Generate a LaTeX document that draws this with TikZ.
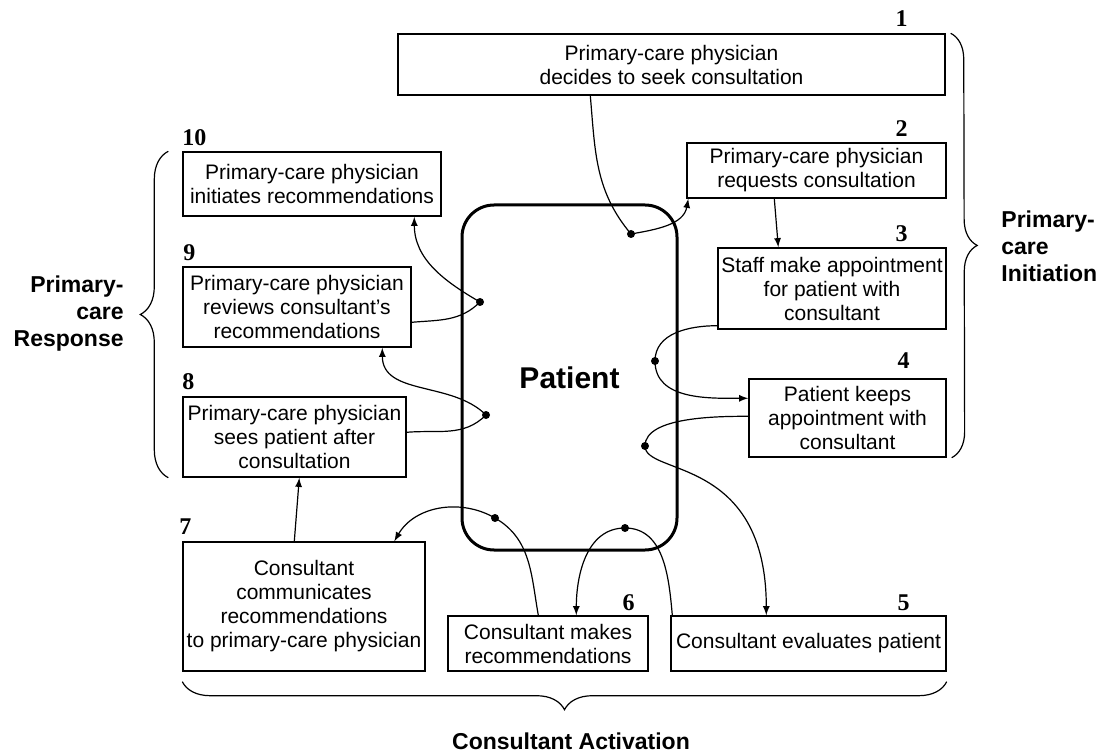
\documentclass[tikz,border=0pt]{standalone}
\usepackage{fontspec}
\setmainfont{Liberation Sans}
\newfontfamily\numfont{Liberation Serif}
\usepackage{tikz}
\usetikzlibrary{calc, decorations.pathreplacing}

\begin{document}
\begin{tikzpicture}[x=0.5pt, y=0.5pt,
    BOX/.style={rectangle, draw=black, line width=0.7pt, inner sep=0pt, font=\fontsize{10.5}{12}\selectfont},
    PAT/.style={rectangle, draw=black, line width=1.5pt, rounded corners=16pt, font=\fontsize{15}{18}\selectfont\bfseries},
    NUM/.style={inner sep=0pt, font=\fontsize{12}{14}\selectfont\numfont\bfseries},
    DOT/.style={circle, fill=black, inner sep=0pt, minimum size=4pt},
    LNK/.style={semithick, ->, >=latex},
    BRC/.style={decorate, decoration={brace, amplitude=13pt}, line width=0.6pt},
    GRP/.style={inner sep=0pt, font=\fontsize{11.5}{13.5}\selectfont\bfseries}
    ]
    \useasboundingbox (0,0) rectangle (1098,-754);
        \node[PAT, minimum width=107.5pt, minimum height=172.5pt] (P) at (569.5,-377.5) {Patient};
        \node[BOX, minimum width=273.5pt, minimum height=30.5pt] (S1) at (671.5,-64.5) {\parbox{200pt}{\centering Primary-care physician\\decides to seek consultation}};
        \node[BOX, minimum width=129.5pt, minimum height=27.5pt] (S2) at (816.5,-170.5) {\parbox{127pt}{\centering Primary-care physician\\requests consultation}};
        \node[BOX, minimum width=114pt, minimum height=40.5pt] (S3) at (832,-288.5) {\parbox{112pt}{\centering Staff make appointment\\for patient with\\consultant}};
        \node[BOX, minimum width=98.5pt, minimum height=39pt] (S4) at (847.5,-418) {\parbox{96pt}{\centering Patient keeps\\appointment with\\consultant}};
        \node[BOX, minimum width=137.5pt, minimum height=27.5pt] (S5) at (808.5,-643.5) {\parbox{135pt}{\centering Consultant evaluates patient}};
        \node[BOX, minimum width=100pt, minimum height=27.5pt] (S6) at (548,-643.5) {\parbox{98pt}{\centering Consultant makes\\recommendations}};
        \node[BOX, minimum width=121pt, minimum height=64.5pt] (S7) at (304,-606.5) {\parbox{119pt}{\centering Consultant\\communicates\\recommendations\\to primary-care physician}};
        \node[BOX, minimum width=111.5pt, minimum height=40pt] (S8) at (294.5,-437) {\parbox{110pt}{\centering Primary-care physician\\sees patient after\\consultation}};
        \node[BOX, minimum width=114pt, minimum height=40pt] (S9) at (297,-307) {\parbox{112pt}{\centering Primary-care physician\\reviews consultant's\\recommendations}};
        \node[BOX, minimum width=129pt, minimum height=32pt] (S10) at (312,-184) {\parbox{127pt}{\centering Primary-care physician\\initiates recommendations}};
        \node[NUM] (N1) at ($(S1.north east)+(-44,15)$) {1};
        \node[NUM] (N2) at ($(S2.north east)+(-45,14)$) {2};
        \node[NUM] (N3) at ($(S3.north east)+(-45,14)$) {3};
        \node[NUM] (N4) at ($(S4.north east)+(-43,18)$) {4};
        \node[NUM] (N5) at ($(S5.north east)+(-43,13)$) {5};
        \node[NUM] (N6) at ($(S6.north east)+(-20,13)$) {6};
        \node[NUM] (N7) at ($(S7.north west)+(3,15)$) {7};
        \node[NUM] (N8) at ($(S8.north west)+(6,15)$) {8};
        \node[NUM] (N9) at ($(S9.north west)+(7,14)$) {9};
        \node[NUM] (N10) at ($(S10.north west)+(12,14)$) {10};
        \node[DOT] (D1) at (631,-234) {};
        \node[DOT] (D3) at (655,-361) {};
        \node[DOT] (D4) at (645,-446) {};
        \node[DOT] (D5) at (625,-528) {};
        \node[DOT] (D6) at (495,-518) {};
        \node[DOT] (D8) at (486,-415) {};
        \node[DOT] (D9) at (480,-302) {};
        \draw[LNK] ($(S1.south west)+(193,0)$) to[out=-85, in=130] (D1.center) to[out=10, in=-100] ($(S2.south west)+(2,0)$);
        \draw[LNK] ($(S2.south west)+(88,0)$) -- ($(S3.north west)+(61,0)$);
        \draw[LNK] ($(S3.south west)+(0,4)$) to[out=180, in=90] (D3.center) to[out=-90, in=180] ($(S4.north west)+(0,-20)$);
        \draw[LNK] ($(S4.north west)+(0,-38)$) to[out=180, in=90, looseness=0.7] (D4.center) to[out=-90, in=90, out distance=15pt, in distance=80pt] ($(S5.north west)+(96,0)$);
        \draw[LNK] ($(S5.north west)+(2,0)$) to[out=95, in=0] (D5.center) to[out=180, in=90] ($(S6.north west)+(129,0)$);
        \draw[LNK] ($(S6.north west)+(91,0)$) to[out=100, in=-30] (D6.center) to[out=150, in=60] ($(S7.north west)+(212,0)$);
        \draw[LNK] ($(S7.north west)+(112,0)$) -- ($(S8.south west)+(117,0)$);
        \draw[LNK] ($(S8.north east)+(0,-36)$) to[out=5, in=-135] (D8.center) to[out=135, in=-90] ($(S9.south west)+(200,0)$);
        \draw[LNK] ($(S9.north east)+(0,-56)$) to[out=5, in=-135] (D9.center) to[out=150, in=-90] ($(S10.south west)+(232,0)$);
        \draw[BRC] ($(S1.north east)+(5,0)$) -- ($(S4.south east)+(5,0)$);
        \draw[BRC, decoration={brace, amplitude=14pt}] ($(S8.south west)+(-14,0)$) -- ($(S10.north west)+(-14,0)$);
        \draw[BRC, decoration={brace, amplitude=14pt}] ($(S5.south east)+(0,-10)$) -- ($(S7.south west)+(0,-10)$);
        \node[GRP, anchor=west, align=left] (G1) at (1001,-246) {Primary-\\care\\Initiation};
        \node[GRP, anchor=east, align=right] (G2) at (124,-314) {Primary-\\care\\Response};
        \node[GRP] (G3) at (571,-741) {Consultant Activation};
    \end{tikzpicture}
\end{document}
